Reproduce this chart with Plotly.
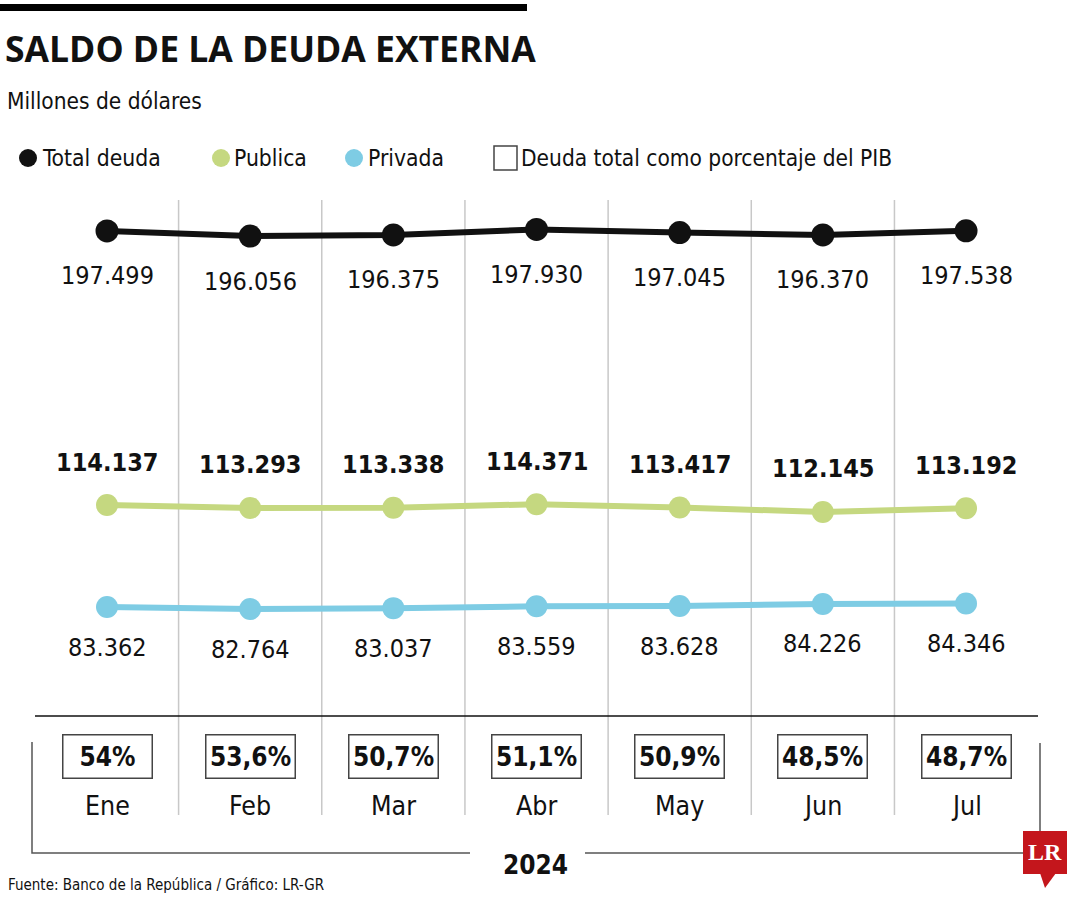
import plotly.graph_objects as go

# ---------------- data ----------------
months = ["Ene", "Feb", "Mar", "Abr", "May", "Jun", "Jul"]
total = [197499, 196056, 196375, 197930, 197045, 196370, 197538]
publica = [114137, 113293, 113338, 114371, 113417, 112145, 113192]
privada = [83362, 82764, 83037, 83559, 83628, 84226, 84346]
pib = ["54%", "53,6%", "50,7%", "51,1%", "50,9%", "48,5%", "48,7%"]
year = "2024"

title = "SALDO DE LA DEUDA EXTERNA"
subtitle = "Millones de dólares"
source = "Fuente: Banco de la República / Gráfico: LR-GR"

# ---------------- style ----------------
W, H = 1080, 900
FONT = "DejaVu Sans Condensed, Roboto, sans-serif"
BLACK = "#111111"
GREEN = "#c5d880"
BLUE = "#7eccE4"
GRID = "#c8c8c8"
LOGO = "#c4161c"


def px(x):
    return x / W


def py(y):
    return 1 - y / H


def fmt(v):
    return f"{v:,}".replace(",", ".")


xs = list(range(len(months)))

fig = go.Figure()
fig.add_trace(go.Scatter(x=xs, y=total, mode="lines+markers", name="Total deuda",
                         line=dict(color=BLACK, width=6), marker=dict(size=23, color=BLACK),
                         yaxis="y", cliponaxis=False, showlegend=False))
fig.add_trace(go.Scatter(x=xs, y=publica, mode="lines+markers", name="Publica",
                         line=dict(color=GREEN, width=6), marker=dict(size=22, color=GREEN),
                         yaxis="y2", cliponaxis=False, showlegend=False))
fig.add_trace(go.Scatter(x=xs, y=privada, mode="lines+markers", name="Privada",
                         line=dict(color=BLUE, width=6), marker=dict(size=22, color=BLUE),
                         yaxis="y3", cliponaxis=False, showlegend=False))

ann = []
shapes = []

# value labels
for i, v in enumerate(total):
    ann.append(dict(x=i, y=v, xref="x", yref="y", yshift=-45, text=fmt(v), showarrow=False,
                    yanchor="middle", font=dict(family=FONT, size=25, color=BLACK)))
for i, v in enumerate(publica):
    ann.append(dict(x=i, y=v, xref="x", yref="y2", yshift=43, text=fmt(v), showarrow=False,
                    yanchor="middle", font=dict(family=FONT, size=25, color=BLACK, weight=700)))
for i, v in enumerate(privada):
    ann.append(dict(x=i, y=v, xref="x", yref="y3", yshift=-40, text=fmt(v), showarrow=False,
                    yanchor="middle", font=dict(family=FONT, size=25, color=BLACK)))

# PIB boxes and month labels
for i, (m, p) in enumerate(zip(months, pib)):
    ann.append(dict(x=i, y=py(756), xref="x", yref="paper", xanchor="center", yanchor="middle",
                    text=p, showarrow=False,
                    width=88, height=42, borderpad=0, bordercolor="#444444", borderwidth=1.5,
                    font=dict(family=FONT, size=26, color=BLACK, weight=700)))
    ann.append(dict(x=i, y=py(805), xref="x", yref="paper", xanchor="center", yanchor="middle",
                    text=m, showarrow=False, font=dict(family=FONT, size=26.5, color=BLACK)))

# vertical separators between months
for i in range(len(months) - 1):
    shapes.append(dict(type="line", xref="x", yref="paper", x0=i + 0.5, x1=i + 0.5,
                       y0=py(200), y1=py(815), line=dict(color=GRID, width=1.5), layer="below"))

# title, subtitle, legend, source
ann.append(dict(x=px(3), y=py(48), xref="paper", yref="paper", xanchor="left", yanchor="middle",
                text=title, showarrow=False,
                font=dict(family="Open Sans, sans-serif", size=35.5, color=BLACK, weight=700)))
ann.append(dict(x=px(5), y=py(101), xref="paper", yref="paper", xanchor="left", yanchor="middle",
                text=subtitle, showarrow=False, font=dict(family=FONT, size=22.5, color=BLACK)))

legend_items = [("Total deuda", BLACK, 28, 40), ("Publica", GREEN, 221, 232), ("Privada", BLUE, 354, 366)]
for lab, col, cx, tx in legend_items:
    shapes.append(dict(type="circle", xref="paper", yref="paper", x0=px(cx - 9), x1=px(cx + 9),
                       y0=py(167), y1=py(149), fillcolor=col, line=dict(width=0)))
    ann.append(dict(x=px(tx), y=py(158), xref="paper", yref="paper", xanchor="left", yanchor="middle",
                    text=lab, showarrow=False, font=dict(family=FONT, size=22.7, color=BLACK)))
shapes.append(dict(type="rect", xref="paper", yref="paper", x0=px(494), x1=px(517),
                   y0=py(170), y1=py(146), line=dict(color="#444444", width=1.5)))
ann.append(dict(x=px(519), y=py(158), xref="paper", yref="paper", xanchor="left", yanchor="middle",
                text="Deuda total como porcentaje del PIB", showarrow=False,
                font=dict(family=FONT, size=22.5, color=BLACK)))

ann.append(dict(x=px(6), y=py(885), xref="paper", yref="paper", xanchor="left", yanchor="middle",
                text=source, showarrow=False, font=dict(family=FONT, size=15, color=BLACK)))
ann.append(dict(x=px(535), y=py(865), xref="paper", yref="paper", xanchor="center", yanchor="middle",
                text=year, showarrow=False, font=dict(family=FONT, size=26, color=BLACK, weight=700)))

# top bar
shapes.append(dict(type="rect", xref="paper", yref="paper", x0=0, x1=px(527), y0=py(11), y1=py(4),
                   fillcolor="#000000", line=dict(width=0)))
# horizontal rule
shapes.append(dict(type="line", xref="paper", yref="paper", x0=px(35), x1=px(1038), y0=py(716), y1=py(716),
                   line=dict(color=BLACK, width=1.5)))
# bracket
shapes.append(dict(type="path", xref="paper", yref="paper",
                   path=f"M {px(32)},{py(742)} L {px(32)},{py(853)} L {px(470)},{py(853)}",
                   line=dict(color="#555555", width=1.5)))
shapes.append(dict(type="line", xref="paper", yref="paper", x0=px(585), x1=px(1024), y0=py(853), y1=py(853),
                   line=dict(color="#555555", width=1.5)))
shapes.append(dict(type="line", xref="paper", yref="paper", x0=px(1040), x1=px(1040), y0=py(743), y1=py(832),
                   line=dict(color="#555555", width=1.5)))
# LR logo
shapes.append(dict(type="rect", xref="paper", yref="paper", x0=px(1023), x1=px(1067), y0=py(874), y1=py(831),
                   fillcolor=LOGO, line=dict(width=0)))
shapes.append(dict(type="path", xref="paper", yref="paper",
                   path=f"M {px(1040)},{py(873)} L {px(1056)},{py(873)} L {px(1045)},{py(888)} Z",
                   fillcolor=LOGO, line=dict(width=0)))
ann.append(dict(x=px(1045), y=py(852), xref="paper", yref="paper", xanchor="center", yanchor="middle",
                text="LR", showarrow=False,
                font=dict(family="Liberation Serif, serif", size=24, color="#ffffff", weight=700)))

hidden = dict(showgrid=False, zeroline=False, showticklabels=False, showline=False, ticks="", fixedrange=True)

fig.update_layout(
    width=W, height=H, margin=dict(l=0, r=0, t=0, b=0),
    paper_bgcolor="#ffffff", plot_bgcolor="#ffffff",
    showlegend=False,
    xaxis=dict(range=[-0.7474, 6.796], domain=[0, 1], **hidden),
    yaxis=dict(range=[169200, 220650], domain=[py(330), py(150)], **hidden),
    yaxis2=dict(range=[98422, 132708], domain=[py(560), py(440)], **hidden),
    yaxis3=dict(range=[56790, 93933], domain=[py(700), py(570)], **hidden),
    annotations=ann, shapes=shapes,
)

fig.write_html("out.html", config={"displayModeBar": False},
               post_script="document.body.style.margin='0';")
